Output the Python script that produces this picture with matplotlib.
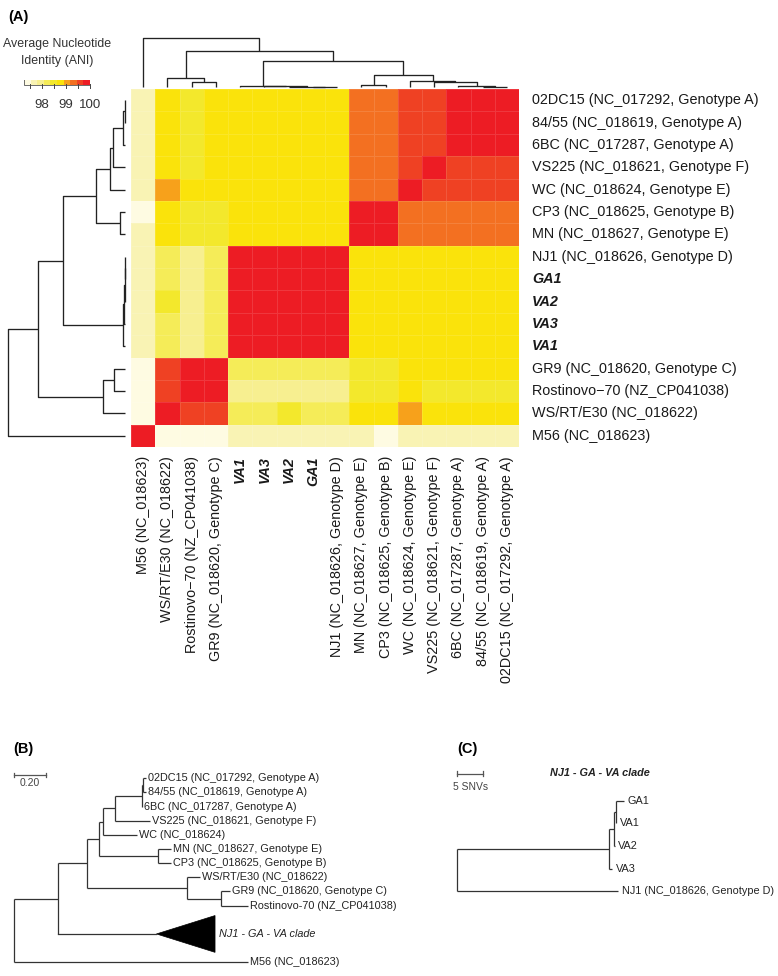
import matplotlib
matplotlib.use('Agg')
import matplotlib.pyplot as plt
from matplotlib.colors import ListedColormap, BoundaryNorm
from matplotlib.patches import Polygon, Rectangle
import numpy as np

plt.rcParams['font.family'] = ['Liberation Sans', 'DejaVu Sans']

# ---------------- data ----------------
# heatmap column order (left -> right); rows are the same strains, bottom -> top
strains = ['M56', 'WS/RT/E30', 'Rostinovo−70', 'GR9', 'VA1', 'VA3', 'VA2', 'GA1',
           'NJ1', 'MN', 'CP3', 'WC', 'VS225', '6BC', '84/55', '02DC15']
strain_labels = ['M56 (NC_018623)', 'WS/RT/E30 (NC_018622)', 'Rostinovo−70 (NZ_CP041038)',
                 'GR9 (NC_018620, Genotype C)', 'VA1', 'VA3', 'VA2', 'GA1',
                 'NJ1 (NC_018626, Genotype D)', 'MN (NC_018627, Genotype E)',
                 'CP3 (NC_018625, Genotype B)', 'WC (NC_018624, Genotype E)',
                 'VS225 (NC_018621, Genotype F)', '6BC (NC_017287, Genotype A)',
                 '84/55 (NC_018619, Genotype A)', '02DC15 (NC_017292, Genotype A)']
new_isolates = ['VA1', 'VA3', 'VA2', 'GA1']

# ANI (%) as displayed: rows top -> bottom (02DC15 ... M56), columns in `strains` order
ani_rows = [
    [97.65, 98.75, 98.5, 98.75, 98.75, 98.75, 98.75, 98.75, 98.75, 99.3, 99.3, 99.6, 99.6, 99.9, 99.9, 99.9],
    [97.65, 98.75, 98.5, 98.75, 98.75, 98.75, 98.75, 98.75, 98.75, 99.3, 99.3, 99.6, 99.6, 99.9, 99.9, 99.9],
    [97.65, 98.75, 98.5, 98.75, 98.75, 98.75, 98.75, 98.75, 98.75, 99.3, 99.3, 99.6, 99.6, 99.9, 99.9, 99.9],
    [97.65, 98.75, 98.5, 98.75, 98.75, 98.75, 98.75, 98.75, 98.75, 99.3, 99.3, 99.6, 99.9, 99.6, 99.6, 99.6],
    [97.65, 99.05, 98.75, 98.75, 98.75, 98.75, 98.75, 98.75, 98.75, 99.3, 99.3, 99.9, 99.6, 99.6, 99.6, 99.6],
    [97.4, 98.75, 98.5, 98.5, 98.75, 98.75, 98.75, 98.75, 98.75, 99.9, 99.9, 99.3, 99.3, 99.3, 99.3, 99.3],
    [97.65, 98.75, 98.5, 98.5, 98.75, 98.75, 98.75, 98.75, 98.75, 99.9, 99.9, 99.3, 99.3, 99.3, 99.3, 99.3],
    [97.65, 98.2, 97.95, 98.2, 99.9, 99.9, 99.9, 99.9, 99.9, 98.75, 98.75, 98.75, 98.75, 98.75, 98.75, 98.75],
    [97.65, 98.2, 97.95, 98.2, 99.9, 99.9, 99.9, 99.9, 99.9, 98.75, 98.75, 98.75, 98.75, 98.75, 98.75, 98.75],
    [97.65, 98.5, 97.95, 98.2, 99.9, 99.9, 99.9, 99.9, 99.9, 98.75, 98.75, 98.75, 98.75, 98.75, 98.75, 98.75],
    [97.65, 98.2, 97.95, 98.2, 99.9, 99.9, 99.9, 99.9, 99.9, 98.75, 98.75, 98.75, 98.75, 98.75, 98.75, 98.75],
    [97.65, 98.2, 97.95, 98.2, 99.9, 99.9, 99.9, 99.9, 99.9, 98.75, 98.75, 98.75, 98.75, 98.75, 98.75, 98.75],
    [97.4, 99.6, 99.9, 99.9, 98.2, 98.2, 98.2, 98.2, 98.2, 98.5, 98.5, 98.75, 98.75, 98.75, 98.75, 98.75],
    [97.4, 99.6, 99.9, 99.9, 97.95, 97.95, 97.95, 97.95, 97.95, 98.5, 98.5, 98.75, 98.5, 98.5, 98.5, 98.5],
    [97.4, 99.9, 99.6, 99.6, 98.2, 98.2, 98.5, 98.2, 98.2, 98.75, 98.75, 99.05, 98.75, 98.75, 98.75, 98.75],
    [99.9, 97.4, 97.4, 97.4, 97.65, 97.65, 97.65, 97.65, 97.65, 97.65, 97.4, 97.65, 97.65, 97.65, 97.65, 97.65],
]

ani_colors = ['#FEFBE2', '#F9F3B4', '#F7EF90', '#F5EC58', '#F3E82C', '#FAE30B',
              '#F7A11B', '#F37021', '#EF4123', '#ED1C24']
ani_bounds = [97.25, 97.525, 97.8, 98.075, 98.35, 98.625, 98.9, 99.175, 99.45, 99.725, 100.0]
ani_ticks = [97.5, 98.0, 98.5, 99.0, 99.5, 100.0]
ani_ticklabels = ['98', '99', '100']

# hierarchical clustering of ANI (merge heights relative to root)
ani_tree = (1.0, 'M56',
            (0.745,
             (0.19, 'WS/RT/E30', (0.095, 'Rostinovo−70', 'GR9')),
             (0.53,
              (0.025, 'VA1', (0.015, 'VA3', (0.008, 'VA2', (0.003, 'GA1', 'NJ1')))),
              (0.25, (0.045, 'MN', 'CP3'),
               (0.13, 'WC', (0.105, 'VS225', (0.02, '6BC', (0.008, '84/55', '02DC15'))))))))

# panel B: phylogeny (name, branch length, children)
clade_depth = 0.37
b_tree = ('', 0.0, [
    ('', 0.28, [
        ('', 0.183, [
            ('', 0.076, [
                ('', 0.021, [
                    ('', 0.078, [
                        ('', 0.169, [
                            ('', 0.010, [('02DC15 (NC_017292, Genotype A)', 0.015, []),
                                         ('84/55 (NC_018619, Genotype A)', 0.015, [])]),
                            ('6BC (NC_017287, Genotype A)', 0.004, [])]),
                        ('VS225 (NC_018621, Genotype F)', 0.221, [])]),
                    ('WC (NC_018624)', 0.215, [])]),
                ('', 0.369, [('MN (NC_018627, Genotype E)', 0.082, []),
                             ('CP3 (NC_018625, Genotype B)', 0.082, [])])]),
            ('', 0.632, [('WS/RT/E30 (NC_018622)', 0.080, []),
                         ('', 0.211, [('GR9 (NC_018620, Genotype C)', 0.059, []),
                                      ('Rostinovo-70 (NZ_CP041038)', 0.174, [])])])]),
        ('NJ1 - GA - VA clade', 0.62, None)]),
    ('M56 (NC_018623)', 1.48, [])])

# panel C: phylogeny in SNVs
c_tree = ('', 0.0, [
    ('', 28.6, [
        ('', 0.9, [
            ('', 0.3, [('GA1', 1.5, []), ('VA1', 0.15, [])]),
            ('VA2', 0.12, [])]),
        ('VA3', 0.5, [])]),
    ('NJ1 (NC_018626, Genotype D)', 30.3, [])])

# ---------------- figure ----------------
W, H = 778, 976
fig = plt.figure(figsize=(W / 100, H / 100), dpi=100)


def add_ax(x0, y0, x1, y1):
    ax = fig.add_axes([x0 / W, 1 - y1 / H, (x1 - x0) / W, (y1 - y0) / H])
    ax.set_axis_off()
    return ax


def ftext(x, y, s, **kw):
    fig.text(x / W, 1 - y / H, s, **kw)


n = len(strains)
cmap = ListedColormap(ani_colors)
norm = BoundaryNorm(ani_bounds, cmap.N)

# heatmap
HX0, HY0, HX1, HY1 = 131, 89, 519, 447
axh = add_ax(HX0, HY0, HX1, HY1)
axh.pcolormesh(np.arange(n + 1), np.arange(n + 1), np.array(ani_rows), cmap=cmap, norm=norm,
               edgecolors=(1, 1, 1, 0.12), linewidth=0.4)
axh.set_xlim(0, n)
axh.set_ylim(n, 0)
pxx = (HX1 - HX0) / n
pxy = (HY1 - HY0) / n
row_labels = strain_labels[::-1]
row_names = strains[::-1]
for i, (lab, nm) in enumerate(zip(row_labels, row_names)):
    bold = nm in new_isolates
    axh.text(n + 13 / pxx, i + 0.5, lab, ha='left', va='center', fontsize=10.4,
             fontweight='bold' if bold else 'normal', fontstyle='italic' if bold else 'normal',
             color='#1a1a1a', clip_on=False)
for j, (lab, nm) in enumerate(zip(strain_labels, strains)):
    bold = nm in new_isolates
    axh.text(j + 0.5, n + 9 / pxy, lab, ha='center', va='top', rotation=90, fontsize=10.4,
             fontweight='bold' if bold else 'normal', fontstyle='italic' if bold else 'normal',
             color='#1a1a1a', clip_on=False)


def draw_dendro(ax, node, leafpos, orient):
    if isinstance(node, str):
        return leafpos[node], 0.0
    h, a, b = node
    pa, ha = draw_dendro(ax, a, leafpos, orient)
    pb, hb = draw_dendro(ax, b, leafpos, orient)
    ps = [pa, pa, pb, pb]
    hs = [ha, h, h, hb]
    if orient == 'top':
        ax.plot(ps, hs, color='#222222', lw=0.95, clip_on=False, solid_capstyle='butt')
    else:
        ax.plot(hs, ps, color='#222222', lw=0.95, clip_on=False, solid_capstyle='butt')
    return (pa + pb) / 2, h


# column dendrogram
axc = add_ax(HX0, 38.3, HX1, 87)
axc.set_xlim(0, n)
axc.set_ylim(0, 1)
draw_dendro(axc, ani_tree, {s: j + 0.5 for j, s in enumerate(strains)}, 'top')

# row dendrogram
axr = add_ax(7.7, HY0, 125.5, HY1)
axr.set_xlim(1, 0)
axr.set_ylim(n, 0)
draw_dendro(axr, ani_tree, {s: i + 0.5 for i, s in enumerate(row_names)}, 'left')

# colour key
axk = add_ax(24, 79.5, 90, 88.5)
lo, hi = ani_bounds[0], ani_bounds[-1]
for k in range(len(ani_colors)):
    axk.add_patch(Rectangle((ani_bounds[k], 0), ani_bounds[k + 1] - ani_bounds[k], 1,
                            facecolor=ani_colors[k], edgecolor='none'))
axk.add_patch(Rectangle((lo, 0), hi - lo, 1, facecolor='none', edgecolor='#555555', lw=0.6))
axk.set_xlim(lo, hi)
axk.set_ylim(-0.75, 1)
for t in ani_ticks:
    axk.plot([t, t], [-0.75, 0.05], color='#444444', lw=0.7, clip_on=False)
for t, lab in zip([98.0, 99.0, 100.0], ani_ticklabels):
    xp = 24 + (t - lo) / (hi - lo) * 66
    ftext(xp, 105, lab, ha='center', va='center', fontsize=9.5, color='#333333')
ftext(57, 44.5, 'Average Nucleotide', ha='center', va='center', fontsize=8.9, color='#333333')
ftext(57, 61, 'Identity (ANI)', ha='center', va='center', fontsize=8.9, color='#333333')

ftext(8, 17, '(A)', ha='left', va='center', fontsize=10.5, fontweight='bold')
ftext(13, 749.5, '(B)', ha='left', va='center', fontsize=10.5, fontweight='bold')
ftext(457, 748.5, '(C)', ha='left', va='center', fontsize=10.5, fontweight='bold')


def draw_phylo(ax, node, x0, state, lw, fs, xoff, tri_half=1.3):
    name, length, kids = node
    x = x0 + length
    if kids is None:  # collapsed clade
        y = state['y'] + 1.5
        state['y'] += 3
        ax.plot([x0, x], [y, y], color='#333333', lw=lw)
        ax.add_patch(Polygon([[x, y], [x + clade_depth, y - tri_half], [x + clade_depth, y + tri_half]],
                             closed=True, facecolor='black', edgecolor='black', lw=0.5))
        ax.text(x + clade_depth + xoff * 2.2, y, name, ha='left', va='center', fontsize=fs,
                fontstyle='italic', color='#222222')
        return y
    if not kids:
        y = state['y'] + 0.5
        state['y'] += 1
        ax.plot([x0, x], [y, y], color='#333333', lw=lw, solid_capstyle='butt')
        ax.text(x + xoff, y, name, ha='left', va='center', fontsize=fs, color='#222222')
        return y
    ys = [draw_phylo(ax, k, x, state, lw, fs, xoff, tri_half) for k in kids]
    y = (ys[0] + ys[-1]) / 2
    ax.plot([x, x], [ys[0], ys[-1]], color='#333333', lw=lw, solid_capstyle='butt')
    if length > 0:
        ax.plot([x0, x], [y, y], color='#333333', lw=lw, solid_capstyle='butt')
    return y


# panel B
bx0, bscale = 14, 158.3      # px of root, px per unit
by0, bstep = 778.3, 14.15    # px of first leaf, px per leaf
axb = add_ax(0, 765, 420, 972)
axb.set_xlim((0 - bx0) / bscale, (420 - bx0) / bscale)
axb.set_ylim(0.5 + (972 - by0) / bstep, 0.5 + (765 - by0) / bstep)
draw_phylo(axb, b_tree, 0.0, {'y': 0.0}, 0.9, 7.8, 0.012)
sy = 0.5 + (775 - by0) / bstep
axb.plot([0, 0.2], [sy, sy], color='#555555', lw=0.9)
for xv in (0, 0.2):
    axb.plot([xv, xv], [sy - 0.17, sy + 0.17], color='#555555', lw=0.9)
axb.text(0.1, 0.5 + (783.5 - by0) / bstep, '0.20', ha='center', va='center', fontsize=7.5,
         color='#444444')

# panel C
cx0, cscale = 456.7, 5.333
cy0, cstep = 800.7, 22.6
axcc = add_ax(440, 760, 778, 905)
axcc.set_xlim((440 - cx0) / cscale, (778 - cx0) / cscale)
axcc.set_ylim(0.5 + (905 - cy0) / cstep, 0.5 + (760 - cy0) / cstep)
draw_phylo(axcc, c_tree, 0.0, {'y': 0.0}, 0.9, 7.8, 0.7)
sy = 0.5 + (773.7 - cy0) / cstep
axcc.plot([0, 5], [sy, sy], color='#555555', lw=0.9)
for xv in (0, 5):
    axcc.plot([xv, xv], [sy - 0.1, sy + 0.1], color='#555555', lw=0.9)
axcc.text(2.6, 0.5 + (787.5 - cy0) / cstep, '5 SNVs', ha='center', va='center', fontsize=7.5,
          color='#444444')
axcc.text((600 - cx0) / cscale, 0.5 + (772.7 - cy0) / cstep, 'NJ1 - GA - VA clade', ha='center',
          va='center', fontsize=7.8, fontweight='bold', fontstyle='italic', color='#222222')

fig.savefig('out.png', dpi=100)
